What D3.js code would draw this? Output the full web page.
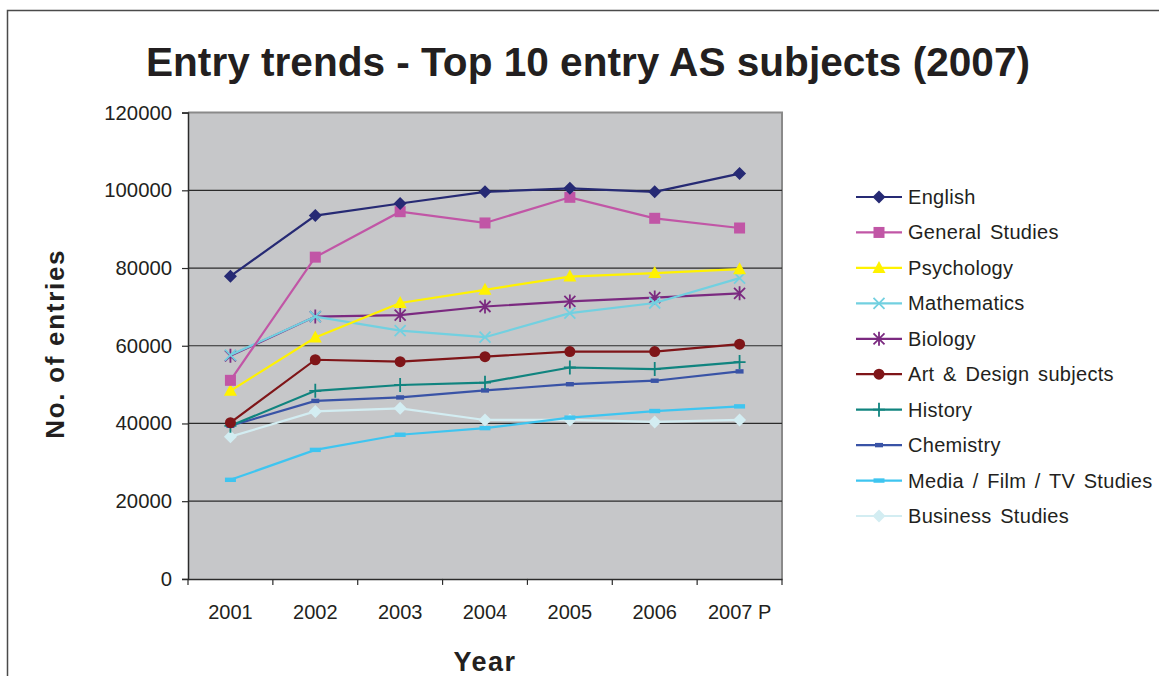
<!DOCTYPE html>
<html>
<head>
<meta charset="utf-8">
<script src="https://cdn.jsdelivr.net/npm/d3@7"></script>
<style>
  html, body { margin: 0; padding: 0; background: #ffffff; }
  svg { display: block; font-family: "Liberation Sans", Arial, sans-serif; }
</style>
</head>
<body>
<svg id="chart" width="1159" height="676"></svg>
<script>
// Categories and tick labels
const years = ["2001", "2002", "2003", "2004", "2005", "2006", "2007 P"];
const yTicks = [0, 20000, 40000, 60000, 80000, 100000, 120000];

// Entries per subject, one array per series
const english        = [77900, 93500, 96600, 99600, 100500, 99600, 104300];
const generalStudies = [51100, 82800, 94500, 91600, 98200, 92800, 90300];
const psychology     = [48400, 62100, 71000, 74400, 77800, 78700, 79700];
const mathematics    = [57600, 67500, 63900, 62200, 68400, 71000, 77400];
const biology        = [57400, 67500, 67900, 70100, 71400, 72400, 73500];
const artDesign      = [40200, 56400, 55900, 57200, 58500, 58500, 60400];
const history        = [39400, 48400, 49900, 50500, 54400, 54000, 55800];
const chemistry      = [39400, 45800, 46700, 48500, 50100, 51000, 53400];
const mediaFilmTv    = [25500, 33200, 37100, 38800, 41500, 43200, 44400];
const business       = [36600, 43100, 43900, 40900, 40900, 40400, 40900];

const seriesNames = ["English", "General Studies", "Psychology", "Mathematics", "Biology",
  "Art & Design subjects", "History", "Chemistry", "Media / Film / TV Studies", "Business Studies"];
const seriesValues = [english, generalStudies, psychology, mathematics, biology,
  artDesign, history, chemistry, mediaFilmTv, business];
const seriesColors = ["#262a74", "#c156a6", "#fff200", "#72d0e0", "#7b2a80",
  "#7f1518", "#10847f", "#3953a6", "#3ec5f0", "#d3edf2"];
const seriesMarkers = ["diamond", "square", "triangle", "x", "star",
  "circle", "plus", "dashSmall", "dash", "diamond"];

const series = seriesNames.map((name, i) => ({
  name, values: seriesValues[i], color: seriesColors[i], marker: seriesMarkers[i]
}));

const svg = d3.select("#chart");

// Outer chart border
svg.append("rect")
  .attr("x", 7.5).attr("y", 10.5)
  .attr("width", 1200).attr("height", 720)
  .attr("fill", "none").attr("stroke", "#4a4a4a").attr("stroke-width", 1.5);

const plot = { left: 188, right: 782, top: 112.6, bottom: 578.9 };

const x = d3.scaleBand().domain(years).range([plot.left, plot.right]);
const y = d3.scaleLinear().domain([0, 120000]).range([plot.bottom, plot.top]);
const cx = d => x(d) + x.bandwidth() / 2;

// Plot area background
svg.append("rect")
  .attr("x", plot.left).attr("y", plot.top)
  .attr("width", plot.right - plot.left).attr("height", plot.bottom - plot.top)
  .attr("fill", "#c6c7c9");

// Top and right frame of plot area
svg.append("path")
  .attr("d", `M${plot.left},${plot.top}H${plot.right}V${plot.bottom}`)
  .attr("fill", "none").attr("stroke", "#8a8a8a").attr("stroke-width", 2);

// Horizontal gridlines
svg.append("g")
  .selectAll("line")
  .data(yTicks.filter(t => t > 0 && t < 120000))
  .join("line")
  .attr("x1", plot.left).attr("x2", plot.right)
  .attr("y1", d => y(d)).attr("y2", d => y(d))
  .attr("stroke", "#2b2b2b").attr("stroke-width", 1.2);

// Y axis
const yAxis = svg.append("g")
  .attr("transform", `translate(${plot.left},0)`)
  .call(d3.axisLeft(y).tickValues(yTicks).tickSize(6).tickPadding(10).tickFormat(d3.format("d")));
yAxis.select(".domain").attr("stroke", "#2b2b2b").attr("stroke-width", 1.5);
yAxis.selectAll(".tick line").attr("stroke", "#2b2b2b").attr("stroke-width", 1.2);
yAxis.selectAll(".tick text")
  .attr("font-size", 20.3).attr("fill", "#231f20")
  .attr("font-family", "'Liberation Sans', Arial, sans-serif");

// X axis with ticks between categories
const xAxis = svg.append("g")
  .attr("transform", `translate(0,${plot.bottom})`)
  .call(d3.axisBottom(x).tickSize(0).tickPadding(26));
xAxis.select(".domain").attr("stroke", "#2b2b2b").attr("stroke-width", 1.5);
xAxis.selectAll(".tick text")
  .attr("font-size", 20).attr("fill", "#231f20")
  .attr("font-family", "'Liberation Sans', Arial, sans-serif");
xAxis.append("g")
  .selectAll("line")
  .data(years.map(d => x(d)).concat([plot.right]))
  .join("line")
  .attr("x1", d => d).attr("x2", d => d)
  .attr("y1", 0).attr("y2", 6)
  .attr("stroke", "#2b2b2b").attr("stroke-width", 1.2);

// Marker drawing
function drawMarker(g, type, color) {
  switch (type) {
    case "diamond":
      g.append("path").attr("d", "M0,-6.5L6.5,0L0,6.5L-6.5,0Z").attr("fill", color);
      break;
    case "square":
      g.append("rect").attr("x", -5.5).attr("y", -5.5).attr("width", 11).attr("height", 11).attr("fill", color);
      break;
    case "triangle":
      g.append("path").attr("d", "M0,-7L6.5,5L-6.5,5Z").attr("fill", color);
      break;
    case "circle":
      g.append("circle").attr("r", 5.5).attr("fill", color);
      break;
    case "x":
      g.append("path").attr("d", "M-5.5,-5.5L5.5,5.5M-5.5,5.5L5.5,-5.5")
        .attr("stroke", color).attr("stroke-width", 1.8).attr("fill", "none");
      break;
    case "star":
      g.append("path").attr("d", "M-5.5,-5.5L5.5,5.5M-5.5,5.5L5.5,-5.5M0,-7L0,7")
        .attr("stroke", color).attr("stroke-width", 1.8).attr("fill", "none");
      break;
    case "plus":
      g.append("path").attr("d", "M0,-7L0,7M-6,0L6,0")
        .attr("stroke", color).attr("stroke-width", 1.8).attr("fill", "none");
      break;
    case "dashSmall":
      g.append("rect").attr("x", -4).attr("y", -2.2).attr("width", 8).attr("height", 4.4).attr("fill", color);
      break;
    case "dash":
      g.append("rect").attr("x", -5.5).attr("y", -2.2).attr("width", 11).attr("height", 4.4).attr("fill", color);
      break;
  }
}

const line = d3.line().x((d, i) => cx(years[i])).y(d => y(d));

// Series lines and markers (last series drawn first so English sits on top)
const seriesG = svg.append("g");
series.slice().reverse().forEach(s => {
  const g = seriesG.append("g");
  g.append("path")
    .attr("d", line(s.values))
    .attr("fill", "none")
    .attr("stroke", s.color)
    .attr("stroke-width", 2.2);
  s.values.forEach((v, i) => {
    const m = g.append("g").attr("transform", `translate(${cx(years[i])},${y(v)})`);
    drawMarker(m, s.marker, s.color);
  });
});

// Legend
const legend = svg.append("g");
const legendY = d3.scalePoint().domain(seriesNames).range([197, 516]);
series.forEach(s => {
  const ly = legendY(s.name);
  const g = legend.append("g");
  g.append("line")
    .attr("x1", 856).attr("x2", 902)
    .attr("y1", ly).attr("y2", ly)
    .attr("stroke", s.color).attr("stroke-width", 2.2);
  drawMarker(g.append("g").attr("transform", `translate(879,${ly})`), s.marker, s.color);
  g.append("text")
    .attr("x", 908).attr("y", ly + 7)
    .attr("font-size", 20).attr("fill", "#231f20")
    .attr("letter-spacing", 0.3).attr("word-spacing", 2.8)
    .text(s.name);
});

// Titles
svg.append("text")
  .attr("x", 588).attr("y", 76)
  .attr("text-anchor", "middle")
  .attr("font-size", 40.6).attr("font-weight", "bold").attr("fill", "#231f20")
  .text("Entry trends - Top 10 entry AS subjects (2007)");

svg.append("text")
  .attr("transform", `translate(64,${(plot.top + plot.bottom) / 2 - 2}) rotate(-90)`)
  .attr("text-anchor", "middle")
  .attr("font-size", 26).attr("font-weight", "bold").attr("fill", "#231f20")
  .attr("letter-spacing", 1.7)
  .text("No. of entries");

svg.append("text")
  .attr("x", (plot.left + plot.right) / 2).attr("y", 671)
  .attr("text-anchor", "middle")
  .attr("font-size", 27).attr("font-weight", "bold").attr("fill", "#231f20")
  .attr("letter-spacing", 1.5)
  .text("Year");
</script>
</body>
</html>
